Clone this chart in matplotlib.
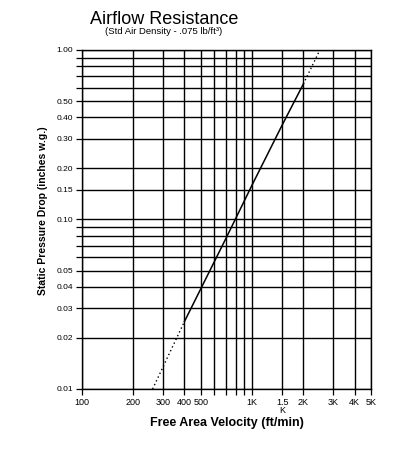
import matplotlib
matplotlib.use("Agg")
import matplotlib.pyplot as plt

plt.rcParams['font.family'] = ['Liberation Sans', 'DejaVu Sans']

# Data
vel_low = [260, 400]
dp_low = [0.010, 0.025]
vel_solid = [400, 700, 1000, 1500, 2000]
dp_solid = [0.025, 0.077, 0.16, 0.36, 0.63]
vel_high = [2000, 2500]
dp_high = [0.63, 1.00]

x_grid = [100, 200, 300, 400, 500, 600, 700, 800, 900, 1000, 1500, 2000, 3000, 4000, 5000]
x_labels = ["100", "200", "300", "400", "500", "", "", "", "", "1K", "1.5\nK", "2K", "3K", "4K", "5K"]
y_grid = [0.01, 0.02, 0.03, 0.04, 0.05, 0.06, 0.07, 0.08, 0.09, 0.10, 0.15,
          0.20, 0.30, 0.40, 0.50, 0.60, 0.70, 0.80, 0.90, 1.00]
y_labels = ["0.01", "0.02", "0.03", "0.04", "0.05", "", "", "", "", "0.10", "0.15",
            "0.20", "0.30", "0.40", "0.50", "", "", "", "", "1.00"]

# Charting
fig = plt.figure(figsize=(3.99, 4.5), dpi=100)
ax = fig.add_axes([0.2055, 0.1356, 0.7245, 0.7533])

ax.plot(vel_low, dp_low, color="black", lw=1, linestyle=(0, (1, 2)))
ax.plot(vel_solid, dp_solid, color="black", lw=1.1)
ax.plot(vel_high, dp_high, color="black", lw=1, linestyle=(0, (1, 2)))

# Arrangements
ax.set_xscale("log")
ax.set_yscale("log")
ax.set_xlim(100, 5000)
ax.set_ylim(0.01, 1.0)
ax.set_xticks(x_grid, x_labels, fontsize=6.5)
ax.set_yticks(y_grid, y_labels, fontsize=6)
for t in ax.get_xticklabels():
    t.set_linespacing(0.85)
ax.minorticks_off()
ax.tick_params(direction="out", length=4, width=0.9, color="black", pad=2.5)
ax.grid(True, color="black", lw=1)
for s in ax.spines.values():
    s.set_linewidth(1)

fig.text(90 / 399, 1 - 20 / 450, "Airflow Resistance", fontsize=13, ha="left", va="center")
fig.text(105 / 399, 1 - 32 / 450, "(Std Air Density - .075 lb/ft\u00b3)", fontsize=6.8, ha="left", va="center")
fig.text(227 / 399, 1 - 423 / 450, "Free Area Velocity (ft/min)", fontsize=9, fontweight="bold",
         ha="center", va="center")
fig.text(43 / 399, 1 - 211 / 450, "Static Pressure Drop (inches w.g.)", fontsize=7.5, fontweight="bold",
         rotation=90, ha="center", va="center")

fig.savefig("out.png", dpi=100)
